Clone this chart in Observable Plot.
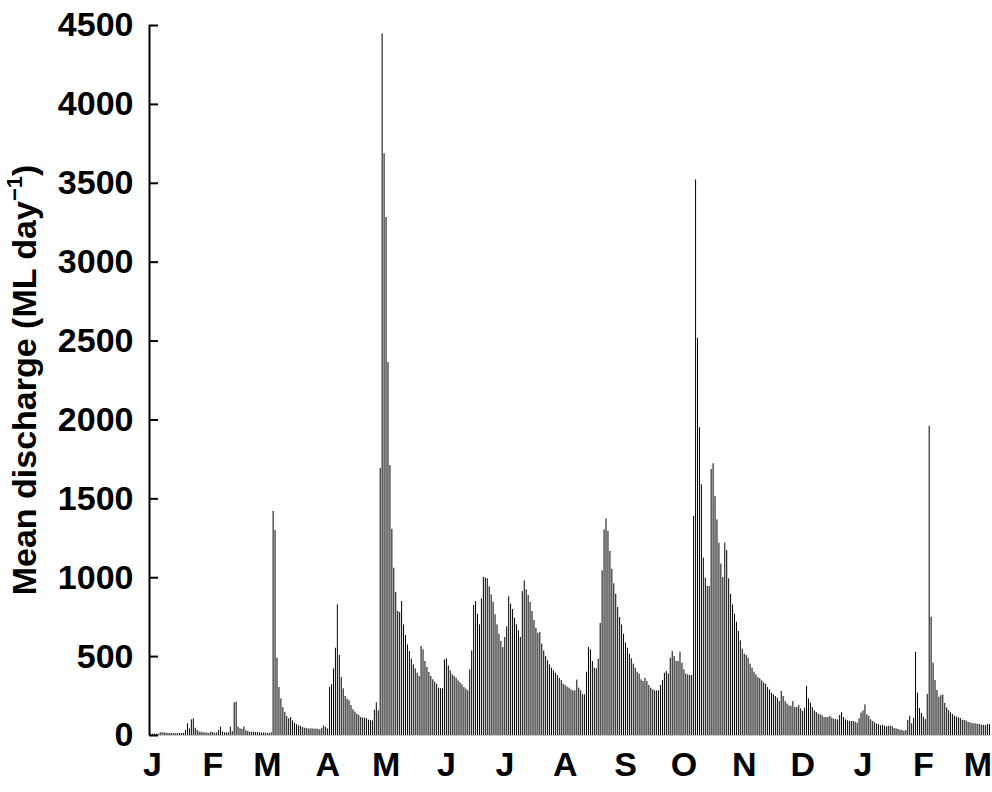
<!DOCTYPE html>
<html>
<head>
<meta charset="utf-8">
<script src="https://cdn.jsdelivr.net/npm/d3@7"></script>
<script src="https://cdn.jsdelivr.net/npm/@observablehq/plot@0.6"></script>
<style>
  body { margin: 0; background: #fff; }
  #chart svg { display: block; }
</style>
</head>
<body>
<div id="chart"></div>
<script>
// ---- data ----
const startDate = "2001-01-01";
const discharge = [
  // Jan - early Mar
  8,8,8,8,8,
  17,17,17,15,13,13,13,12,
  12,12,13,13,14,
  32,74,42,99,106,46,32,
  21,21,17,17,15,13,
  21,19,13,17,
  32,53,
  21,17,17,17,
  53,25,
  207,211,
  53,42,38,55,30,
  25,21,21,21,19,19,17,15,15,15,13,13,
  17,
  // Mar - Apr
  1420,1300,490,304,232,177,146,120,106,114,93,76,68,61,59,51,46,44,42,42,42,40,40,40,36,46,61,51,42,
  304,321,422,553,828,507,367,296,247,230,220,190,163,148,135,127,114,110,110,106,97,95,93,160,207,156,1692,4447,
  3687,3283,2364,1711,
  // May - Jul
  1307,1060,906,786,779,849,701,634,574,532,484,448,422,395,374,
  564,543,469,431,399,374,353,338,325,300,296,296,
  479,486,441,410,384,374,363,346,334,321,304,294,283,
  416,536,824,849,769,701,866,1003,997,993,942,891,845,765,701,642,596,557,
  621,689,879,832,798,743,701,663,621,
  // Jul - Sep
  912,980,923,887,843,786,729,680,648,653,579,536,500,473,448,427,410,395,380,363,348,325,317,306,300,289,283,283,
  351,300,283,258,258,
  401,558,543,469,427,422,484,710,1043,1303,1373,1293,1166,1054,961,895,811,748,701,642,587,553,515,486,452,427,401,389,
  // Sep - Nov
  353,342,363,342,317,300,289,283,283,283,317,348,395,405,389,490,532,500,469,469,528,458,416,389,384,380,380,
  1388,3521,2518,1950,1589,1124,997,944,944,1686,1722,1514,1366,1219,1086,1001,
  1219,1172,993,895,828,769,718,659,600,547,515,507,490,452,427,401,384,367,359,346,332,
  // Nov - Jan
  325,304,289,268,258,247,237,215,279,247,215,199,188,184,215,177,177,190,169,152,
  173,310,232,205,177,156,146,135,131,125,114,114,114,120,110,103,101,99,127,144,
  114,99,93,89,89,89,84,78,106,142,156,194,131,120,99,89,80,72,68,61,
  // Jan - Mar
  65,59,55,59,59,55,44,42,38,34,32,27,32,95,120,74,108,528,268,171,
  141,116,101,260,1960,750,458,348,285,243,253,256,203,175,158,144,133,122,116,112,
  108,97,95,91,84,80,76,74,74,70,70,65,65,63,70,68
];
const monthTicks = ["2001-01-01","2001-02-01","2001-03-01","2001-04-01","2001-05-01","2001-06-01",
  "2001-07-01","2001-08-01","2001-09-01","2001-10-01","2001-11-01","2001-12-01",
  "2002-01-01","2002-02-01","2002-03-01"];
const monthLabels = ["J","F","M","A","M","J","J","A","S","O","N","D","J","F","M"];
const yTicks = [0,500,1000,1500,2000,2500,3000,3500,4000,4500];
const yLabelParts = ["Mean discharge (ML day", "\u22121", ")"];

// ---- build ----
const DAY = 864e5;
const t0 = new Date(startDate + "T00:00:00Z").getTime();
const data = discharge.map((v, i) => ({date: new Date(t0 + i * DAY), value: v}));
const tickDates = monthTicks.map(s => new Date(s + "T00:00:00Z"));
const xDomain = [new Date(t0 - DAY / 2), new Date(t0 + (discharge.length - 0.5) * DAY)];
const FONT = "'Liberation Sans', Arial, Helvetica, sans-serif";

const chart = Plot.plot({
  width: 992,
  height: 792,
  marginLeft: 149,
  marginRight: 2,
  marginTop: 25,
  marginBottom: 57,
  style: {fontFamily: FONT, fontSize: "34px", fontWeight: "bold", background: "#fff", color: "#000"},
  x: {type: "utc", domain: xDomain},
  y: {domain: [0, 4500]},
  marks: [
    Plot.ruleY([0], {stroke: "#c8c8c8", strokeWidth: 1}),
    Plot.ruleX(data, {x: "date", y1: 0, y2: "value", stroke: "#000", strokeWidth: 1}),
    Plot.ruleX([xDomain[0]], {stroke: "#000", strokeWidth: 2}),
    Plot.axisY(yTicks, {tickSize: 9, dx: 9, fill: "none", strokeWidth: 2, label: null}),
    Plot.axisY(yTicks, {tickSize: 0, tickPadding: 16, label: null, tickFormat: d => String(d)}),
    Plot.axisX(tickDates, {
      tickSize: 0, tickPadding: 16, label: null, dx: 2,
      tickFormat: d => monthLabels[tickDates.findIndex(t => +t === +d)]
    })
  ]
});

const svg = d3.select(chart);
const lab = svg.append("text")
  .attr("transform", "translate(36,380) rotate(-90)")
  .attr("text-anchor", "middle")
  .attr("font-family", FONT)
  .attr("font-size", 34)
  .attr("font-weight", "bold")
  .attr("fill", "#000");
lab.append("tspan").text(yLabelParts[0]);
lab.append("tspan").attr("dy", -14).attr("font-size", 22).text(yLabelParts[1]);
lab.append("tspan").attr("dy", 14).text(yLabelParts[2]);

document.getElementById("chart").appendChild(chart);
</script>
</body>
</html>
